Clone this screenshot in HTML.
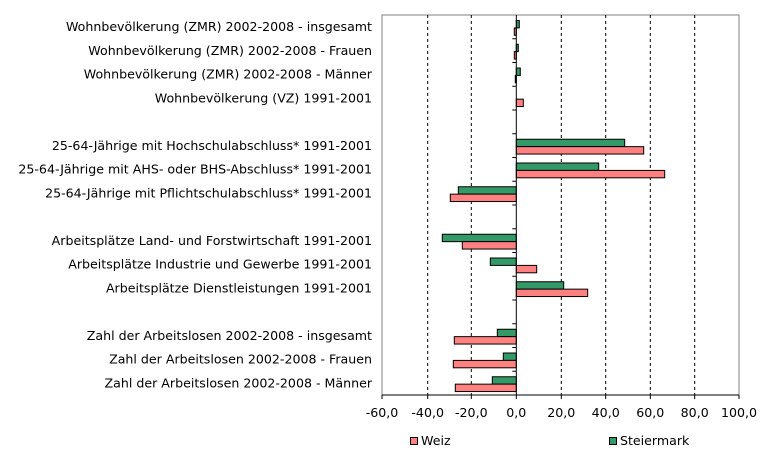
<!DOCTYPE html>
<html><head><meta charset="utf-8"><style>
body{margin:0;background:#fff;width:775px;height:457px;overflow:hidden}
svg{display:block}
text{font-family:"DejaVu Sans","Liberation Sans",sans-serif;font-size:12.6px;fill:#000}
</style></head><body>
<svg width="775" height="457" viewBox="0 0 775 457">
<rect x="382" y="15" width="357" height="380" fill="#fff" stroke="#808080" stroke-width="1"/>
<g stroke="#000" stroke-dasharray="3,3" stroke-width="1">
<line x1="427.7" y1="15" x2="427.7" y2="395"/>
<line x1="471.3" y1="15" x2="471.3" y2="395"/>
<line x1="561.3" y1="15" x2="561.3" y2="395"/>
<line x1="605.7" y1="15" x2="605.7" y2="395"/>
<line x1="650.3" y1="15" x2="650.3" y2="395"/>
<line x1="694.7" y1="15" x2="694.7" y2="395"/>
</g>
<g stroke="#000" stroke-width="1">
<rect x="516.3" y="20.5" width="3" height="7.4" fill="#339966"/>
<rect x="514.3" y="27.9" width="2" height="7.4" fill="#FF8080"/>
<rect x="516.3" y="44.25" width="2" height="7.4" fill="#339966"/>
<rect x="514.3" y="51.65" width="2" height="7.4" fill="#FF8080"/>
<rect x="516.3" y="68" width="4" height="7.4" fill="#339966"/>
<rect x="515.3" y="75.4" width="1" height="7.4" fill="#FF8080"/>
<rect x="516.3" y="99.15" width="7" height="7.4" fill="#FF8080"/>
<rect x="516.3" y="139.25" width="108.4" height="7.4" fill="#339966"/>
<rect x="516.3" y="146.65" width="127.4" height="7.4" fill="#FF8080"/>
<rect x="516.3" y="163" width="82.4" height="7.4" fill="#339966"/>
<rect x="516.3" y="170.4" width="148.4" height="7.4" fill="#FF8080"/>
<rect x="458.3" y="186.75" width="58" height="7.4" fill="#339966"/>
<rect x="450.3" y="194.15" width="66" height="7.4" fill="#FF8080"/>
<rect x="442.3" y="234.25" width="74" height="7.4" fill="#339966"/>
<rect x="462.3" y="241.65" width="54" height="7.4" fill="#FF8080"/>
<rect x="490.3" y="258" width="26" height="7.4" fill="#339966"/>
<rect x="516.3" y="265.4" width="20.4" height="7.4" fill="#FF8080"/>
<rect x="516.3" y="281.75" width="47.4" height="7.4" fill="#339966"/>
<rect x="516.3" y="289.15" width="71.4" height="7.4" fill="#FF8080"/>
<rect x="497.3" y="329.25" width="19" height="7.4" fill="#339966"/>
<rect x="454.3" y="336.65" width="62" height="7.4" fill="#FF8080"/>
<rect x="503.3" y="353" width="13" height="7.4" fill="#339966"/>
<rect x="453.3" y="360.4" width="63" height="7.4" fill="#FF8080"/>
<rect x="492.3" y="376.75" width="24" height="7.4" fill="#339966"/>
<rect x="455.3" y="384.15" width="61" height="7.4" fill="#FF8080"/>
</g>
<g stroke="#000" stroke-width="1">
<line x1="516.3" y1="15" x2="516.3" y2="395"/>
<line x1="382" y1="395" x2="739" y2="395"/>
<path d="M512.3 38.75h4M512.3 62.5h4M512.3 86.25h4M512.3 110h4M512.3 133.75h4M512.3 157.5h4M512.3 181.25h4M512.3 205h4M512.3 228.75h4M512.3 252.5h4M512.3 276.25h4M512.3 300h4M512.3 323.75h4M512.3 347.5h4M512.3 371.25h4"/>
<path d="M382 395v4M427.7 395v4M471.3 395v4M516.3 395v4M561.3 395v4M605.7 395v4M650.3 395v4M694.7 395v4M739 395v4"/>
</g>
<g text-anchor="end">
<text x="372" y="31">Wohnbevölkerung (ZMR) 2002-2008 - insgesamt</text>
<text x="372" y="54.75">Wohnbevölkerung (ZMR) 2002-2008 - Frauen</text>
<text x="372" y="78.5">Wohnbevölkerung (ZMR) 2002-2008 - Männer</text>
<text x="372" y="102.25">Wohnbevölkerung (VZ) 1991-2001</text>
<text x="372" y="149.75">25-64-Jährige mit Hochschulabschluss* 1991-2001</text>
<text x="372" y="173.5">25-64-Jährige mit AHS- oder BHS-Abschluss* 1991-2001</text>
<text x="372" y="197.25">25-64-Jährige mit Pflichtschulabschluss* 1991-2001</text>
<text x="372" y="244.75">Arbeitsplätze Land- und Forstwirtschaft 1991-2001</text>
<text x="372" y="268.5">Arbeitsplätze Industrie und Gewerbe 1991-2001</text>
<text x="372" y="292.25">Arbeitsplätze Dienstleistungen 1991-2001</text>
<text x="372" y="339.75">Zahl der Arbeitslosen 2002-2008 - insgesamt</text>
<text x="372" y="363.5">Zahl der Arbeitslosen 2002-2008 - Frauen</text>
<text x="372" y="387.25">Zahl der Arbeitslosen 2002-2008 - Männer</text>
</g>
<g text-anchor="middle">
<text x="382" y="417">-60,0</text>
<text x="427.7" y="417">-40,0</text>
<text x="471.3" y="417">-20,0</text>
<text x="516.3" y="417">0,0</text>
<text x="561.3" y="417">20,0</text>
<text x="605.7" y="417">40,0</text>
<text x="650.3" y="417">60,0</text>
<text x="694.7" y="417">80,0</text>
<text x="739" y="417">100,0</text>
</g>
<rect x="410.5" y="437.5" width="7" height="7" fill="#FF8080" stroke="#000"/>
<text x="421" y="445">Weiz</text>
<rect x="609.5" y="437.5" width="7" height="7" fill="#339966" stroke="#000"/>
<text x="620" y="445">Steiermark</text>
</svg>
</body></html>
